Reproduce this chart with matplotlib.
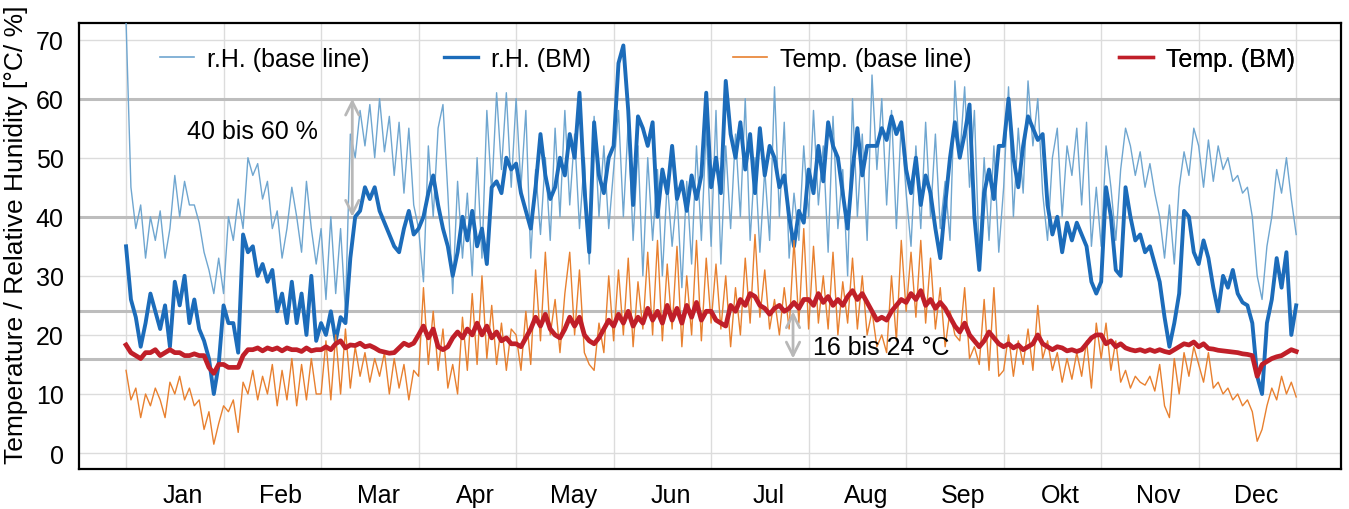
import numpy as np
import matplotlib
matplotlib.use('Agg')
import matplotlib.pyplot as plt
from matplotlib.lines import Line2D

# month labels (German export, "Okt")
months = ['Jan', 'Feb', 'Mar', 'Apr', 'May', 'Jun',
          'Jul', 'Aug', 'Sep', 'Okt', 'Nov', 'Dec']

# values, 20 samples per month (step 0.05 month)
rh_base = [
    73, 45, 38, 42, 33, 40, 36, 41, 33, 38, 47, 40, 46, 42, 42, 39, 34, 31, 27, 33,      # Jan
    27, 40, 36, 43, 38, 50, 47, 49, 43, 46, 38, 41, 33, 38, 45, 40, 34, 46, 38, 32,      # Feb
    38, 26, 40, 27, 38, 24, 54, 50, 58, 52, 59, 50, 60, 51, 57, 47, 56, 44, 55, 42,      # Mar
    38, 29, 52, 40, 55, 59, 44, 27, 46, 33, 44, 30, 50, 33, 58, 44, 61, 48, 61, 45,      # Apr
    60, 45, 58, 33, 48, 37, 50, 36, 55, 40, 58, 42, 54, 38, 50, 32, 57, 40, 52, 38,      # May
    48, 58, 40, 56, 36, 52, 30, 50, 36, 48, 30, 46, 35, 44, 28, 46, 32, 52, 36, 55,      # Jun
    35, 58, 32, 52, 38, 54, 40, 60, 36, 50, 34, 48, 36, 62, 40, 56, 33, 44, 36, 52,      # Jul
    40, 58, 42, 52, 34, 57, 38, 48, 30, 60, 40, 54, 36, 64, 48, 60, 42, 58, 38, 56,      # Aug
    44, 35, 52, 38, 56, 40, 54, 38, 46, 36, 63, 50, 62, 45, 58, 33, 50, 36, 52, 34,      # Sep
    45, 62, 40, 55, 44, 63, 52, 60, 44, 36, 50, 55, 40, 52, 47, 55, 42, 56, 35, 45,      # Okt
    35, 52, 45, 36, 48, 55, 52, 47, 51, 45, 49, 44, 40, 33, 42, 32, 45, 51, 47, 55,      # Nov
    52, 45, 53, 46, 52, 48, 50, 46, 47, 44, 45, 40, 30, 26, 35, 40, 48, 44, 50, 43, 37,  # Dec
]

rh_bm = [
    35, 26, 23, 18, 22, 27, 24, 21, 25, 18, 29, 25, 30, 22, 26, 21, 19, 16, 10, 15,      # Jan
    25, 22, 22, 17, 37, 34, 35, 30, 32, 29, 31, 24, 27, 22, 29, 22, 27, 20, 30, 19,      # Feb
    22, 20, 24, 19, 23, 22, 33, 40, 41, 45, 43, 45, 41, 39, 37, 35, 34, 38, 41, 37,      # Mar
    38, 40, 44, 47, 42, 38, 35, 30, 34, 40, 36, 41, 35, 38, 32, 45, 46, 44, 50, 48,      # Apr
    49, 44, 41, 38, 45, 54, 47, 43, 45, 50, 47, 54, 50, 61, 45, 34, 56, 47, 44, 50,      # May
    52, 66, 69, 58, 42, 57, 55, 52, 56, 40, 48, 44, 52, 43, 46, 41, 47, 43, 47, 61,      # Jun
    45, 50, 44, 63, 54, 50, 56, 48, 54, 44, 55, 47, 52, 50, 45, 47, 40, 35, 41, 39,      # Jul
    48, 44, 52, 46, 56, 52, 50, 44, 38, 48, 55, 47, 52, 52, 52, 55, 53, 57, 54, 56,      # Aug
    48, 44, 50, 42, 47, 44, 38, 33, 42, 50, 56, 50, 54, 59, 40, 31, 44, 48, 43, 52,      # Sep
    52, 60, 50, 45, 52, 57, 55, 53, 54, 42, 37, 40, 34, 39, 36, 39, 37, 35, 29, 27,      # Okt
    29, 45, 40, 31, 30, 45, 40, 36, 37, 34, 35, 32, 29, 23, 18, 22, 27, 41, 40, 34,      # Nov
    32, 36, 33, 28, 24, 30, 28, 31, 27, 25.5, 25, 22, 13, 10, 22, 26, 33, 28, 34, 20, 25,  # Dec
]

temp_base = [
    14, 9, 11, 6, 10, 8, 11, 9, 6, 12, 10, 13, 9, 11, 8, 9, 4, 7, 1.5, 5,               # Jan
    8, 7, 9, 3.5, 12, 10, 14, 9, 13, 10, 15, 8, 14, 9, 16, 8, 15, 9, 16, 10,            # Feb
    10, 19, 9, 20, 10, 21, 11, 18, 13, 17, 12, 16, 13, 17, 10, 16, 11, 15, 9, 14,       # Mar
    13, 28, 15, 24, 14, 21, 11, 15, 10, 23, 14, 27, 15, 30, 16, 25, 15, 22, 14, 21,     # Apr
    20, 14, 24, 15, 31, 19, 34, 20, 26, 17, 27, 34, 20, 31, 17, 15, 14, 22, 17, 30,     # May
    19, 31, 20, 33, 18, 29, 21, 34, 20, 36, 19, 32, 21, 35, 18, 30, 20, 36, 19, 33,     # Jun
    22, 32, 21, 30, 18, 28, 20, 33, 22, 37, 23, 31, 21, 26, 20, 28, 21, 36, 22, 38,     # Jul
    21, 35, 22, 30, 21, 34, 20, 29, 22, 33, 21, 30, 20, 24, 18, 20, 17, 30, 19, 36,     # Aug
    24, 34, 23, 36, 22, 33, 21, 28, 18, 24, 20, 19, 28, 16, 18, 15, 26, 14, 28, 13,     # Sep
    14, 20, 13, 19, 15, 21, 14, 25, 16, 19, 14, 17, 12, 16, 12.5, 17, 13, 19, 11, 22,   # Okt
    16, 22, 14, 19, 12, 14, 11, 13, 12, 11.5, 13, 10.5, 15, 8, 6, 16, 10, 17, 13, 18,   # Nov
    15, 12, 17, 11, 12, 10, 11, 9, 10, 8, 9, 7, 2, 4, 8, 11, 9, 13, 10, 12, 9.5,        # Dec
]

temp_bm = [
    18.3, 17, 16.5, 16, 17, 17, 17.5, 16.5, 17, 17.5, 17, 17, 16.5, 16.5, 16.8, 16.5, 16.5, 14.5, 13.5, 15,          # Jan
    15, 14.5, 14.5, 14.5, 16.5, 17.5, 17.5, 17.8, 17.3, 17.8, 17.5, 17.8, 17.3, 17.8, 17.5, 17.5, 17.2, 17.8, 17.3, 17.5,  # Feb
    17.5, 18, 17.5, 18.5, 19, 17.8, 18.3, 18.2, 18.6, 18, 18.2, 17.8, 17.3, 17.1, 16.9, 17, 17.8, 18.6, 18.2, 18.6,  # Mar
    20, 21.5, 19.5, 21, 18, 17.5, 18, 19.5, 20.5, 19.5, 21, 20, 22, 20, 21.5, 19.5, 20.5, 19, 19.5, 18.5,           # Apr
    18.5, 18, 19.5, 21, 23, 21.5, 23.5, 21, 20, 19.5, 21, 23, 21.5, 23, 20, 19, 18.5, 19.5, 21, 22.5,               # May
    21.5, 23.5, 22, 24, 21.5, 23, 22, 24.5, 22.5, 24, 22, 25, 22.5, 24.5, 22, 25, 23, 25.5, 22.5, 24,               # Jun
    24, 22.5, 22, 21.5, 25, 24, 26, 25, 27, 26.5, 25, 24.5, 23.5, 24.5, 25, 24, 24.5, 25.5, 24.5, 26,               # Jul
    26, 25, 27, 25.5, 26.5, 25, 26, 25, 26.5, 27.5, 26, 27, 25.5, 24, 22.5, 23, 22.5, 24, 25, 26,                   # Aug
    25.5, 27, 26, 27.5, 25, 26, 24.5, 25.5, 24.5, 23, 21.5, 20.5, 22, 20, 19, 18, 19, 20.5, 19.5, 18.5,             # Sep
    18, 18.5, 17.8, 18.3, 17.5, 18, 18.5, 20, 18.5, 18, 17.5, 18, 17.8, 17.3, 17.5, 17.2, 17.5, 18.5, 19.5, 20,      # Okt
    20, 18.5, 19, 18, 18.5, 17.8, 17.5, 17.3, 17.5, 17.2, 17.5, 17.2, 17.5, 17.2, 17, 17.5, 18, 18.5, 18.3, 18.8,    # Nov
    18, 18.5, 17.7, 17.6, 17.4, 17.3, 17.2, 17.1, 17, 16.8, 16.7, 16.5, 13, 15, 15.5, 16, 16.3, 16.5, 17, 17.5, 17.2,  # Dec
]

step = 0.05  # month fraction per sample

plt.rcParams['font.family'] = ['Liberation Sans', 'DejaVu Sans']

fig = plt.figure(figsize=(13.49, 5.10), dpi=100)
ax = fig.add_axes([0.0586, 0.0784, 0.9355, 0.8745])

series = [
    (rh_base, 'r.H. (base line)', '#6fa6d0', 1.0),
    (rh_bm, 'r.H. (BM)', '#1c6cba', 2.8),
    (temp_base, 'Temp. (base line)', '#e8802f', 1.0),
    (temp_bm, 'Temp. (BM)', '#c01f29', 3.4),
]
for vals, lab, col, lw in series:
    xs = np.arange(len(vals)) * step
    ax.plot(xs, vals, color=col, lw=lw, zorder=3, solid_joinstyle='round')

# comfort range lines
for v in [16, 24, 40, 60]:
    ax.axhline(v, color='#bdbdbd', lw=2.2, zorder=2)

ax.annotate('', xy=(2.32, 60), xytext=(2.32, 40),
            arrowprops=dict(arrowstyle='<->', color='#b8b8b8', lw=2,
                            mutation_scale=24, shrinkA=0, shrinkB=0), zorder=5)
ax.annotate('', xy=(6.84, 24), xytext=(6.84, 16),
            arrowprops=dict(arrowstyle='<->', color='#b8b8b8', lw=2,
                            mutation_scale=24, shrinkA=0, shrinkB=0), zorder=5)
ax.text(0.626, 54.6, '40 bis 60 %', fontsize=18, va='center', zorder=6)
ax.text(7.046, 17.9, '16 bis 24 °C', fontsize=18, va='center', zorder=6)

ax.set_xlim(-0.482, 12.46)
ax.set_ylim(-2.7, 72.8)
ax.set_yticks(range(0, 71, 10))
ax.set_xticks(np.arange(13), minor=True)
ax.set_xticks(np.arange(12) + 0.585, months)
ax.grid(False)
ax.yaxis.grid(True, color='#dcdcdc', lw=1)
ax.xaxis.grid(True, which='minor', color='#dcdcdc', lw=1)
ax.set_axisbelow(True)
ax.tick_params(which='both', length=0, labelsize=18)
ax.tick_params(axis='y', pad=11)
ax.tick_params(axis='x', pad=10)

ax.set_ylabel('Temperature / Relative Hunidity [°C/ %]', fontsize=19)
ax.yaxis.set_label_coords(-0.0404, 0.527)

for sp in ax.spines.values():
    sp.set_linewidth(1.6)
    sp.set_color('black')

# legend entries, spread along the top
leg_x = [0.0642, 0.2892, 0.518, 0.824]
for (vals, lab, col, lw), lx in zip(series, leg_x):
    leg = ax.legend(handles=[Line2D([], [], color=col, lw=min(max(lw, 1.2), 2.4))], labels=[lab],
                    loc='center left', bbox_to_anchor=(lx, 0.919), frameon=False,
                    fontsize=18, handlelength=1.36, handletextpad=0.52,
                    borderpad=0, borderaxespad=0)
    ax.add_artist(leg)

fig.savefig('out.png', dpi=100)
